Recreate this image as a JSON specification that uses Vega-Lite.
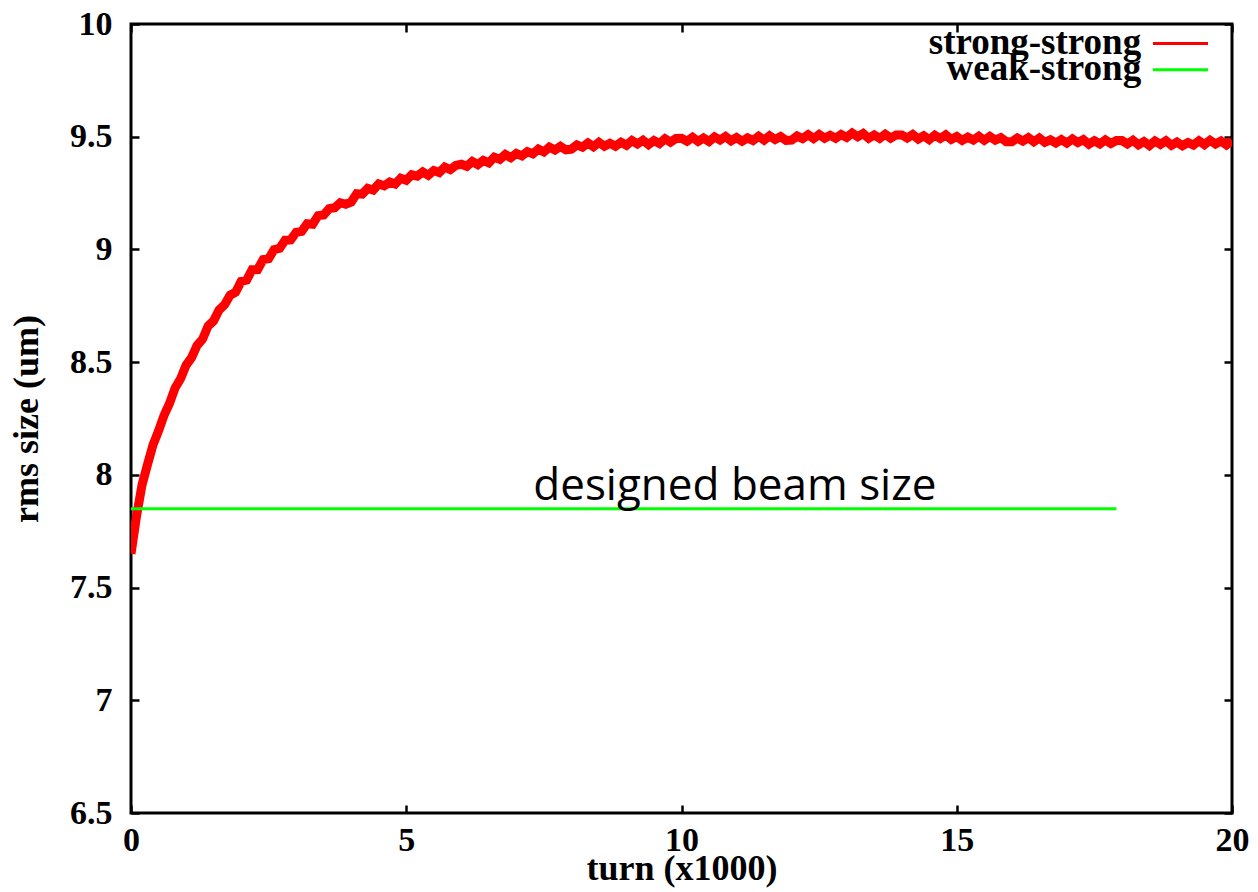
{
  "$schema": "https://vega.github.io/schema/vega-lite/v6.json",
  "autosize": {"type": "none"},
  "width": 1101,
  "height": 789,
  "padding": {"left": 131, "top": 24, "right": 26, "bottom": 79},
  "background": "white",
  "config": {
    "view": {"stroke": "black", "strokeWidth": 3},
    "axis": {"grid": false, "domain": false, "tickColor": "black", "tickWidth": 2.5, "tickSize": -8,
      "labelFont": "Liberation Serif", "labelFontWeight": "bold", "labelFontSize": 34, "labelColor": "black",
      "titleFont": "Liberation Serif", "titleFontWeight": "bold", "titleFontSize": 36, "titleColor": "black",
      "labelFlush": false, "labelOverlap": false}
  },
  "datasets": {
    "weak": [
      {"turn": 0, "rms": 7.85, "series": "weak-strong"},
      {"turn": 17.9, "rms": 7.85, "series": "weak-strong"}
    ],
    "strong": [
      {"turn":0.0,"rms":7.65},{"turn":0.1,"rms":7.816},{"turn":0.2,"rms":7.955},{"turn":0.3,"rms":8.046},{"turn":0.4,"rms":8.133},
      {"turn":0.5,"rms":8.195},{"turn":0.6,"rms":8.264},{"turn":0.7,"rms":8.317},{"turn":0.8,"rms":8.385},{"turn":0.9,"rms":8.426},
      {"turn":1.0,"rms":8.486},{"turn":1.1,"rms":8.52},{"turn":1.2,"rms":8.574},{"turn":1.3,"rms":8.602},{"turn":1.4,"rms":8.66},
      {"turn":1.5,"rms":8.683},{"turn":1.6,"rms":8.731},{"turn":1.7,"rms":8.755},{"turn":1.8,"rms":8.797},{"turn":1.9,"rms":8.81},
      {"turn":2.0,"rms":8.858},{"turn":2.1,"rms":8.864},{"turn":2.2,"rms":8.91},{"turn":2.3,"rms":8.911},{"turn":2.4,"rms":8.955},
      {"turn":2.5,"rms":8.959},{"turn":2.6,"rms":8.999},{"turn":2.7,"rms":9.005},{"turn":2.8,"rms":9.041},{"turn":2.9,"rms":9.042},
      {"turn":3.0,"rms":9.076},{"turn":3.1,"rms":9.08},{"turn":3.2,"rms":9.114},{"turn":3.3,"rms":9.112},{"turn":3.4,"rms":9.15},
      {"turn":3.5,"rms":9.153},{"turn":3.6,"rms":9.181},{"turn":3.7,"rms":9.185},{"turn":3.8,"rms":9.207},{"turn":3.9,"rms":9.2},
      {"turn":4.0,"rms":9.21},{"turn":4.1,"rms":9.247},{"turn":4.2,"rms":9.245},{"turn":4.3,"rms":9.271},{"turn":4.4,"rms":9.263},
      {"turn":4.5,"rms":9.29},{"turn":4.6,"rms":9.282},{"turn":4.7,"rms":9.299},{"turn":4.8,"rms":9.29},{"turn":4.9,"rms":9.316},
      {"turn":5.0,"rms":9.307},{"turn":5.1,"rms":9.331},{"turn":5.2,"rms":9.325},{"turn":5.3,"rms":9.344},{"turn":5.4,"rms":9.329},
      {"turn":5.5,"rms":9.35},{"turn":5.6,"rms":9.341},{"turn":5.7,"rms":9.365},{"turn":5.8,"rms":9.354},{"turn":5.9,"rms":9.373},
      {"turn":6.0,"rms":9.378},{"turn":6.1,"rms":9.369},{"turn":6.2,"rms":9.39},{"turn":6.3,"rms":9.376},{"turn":6.4,"rms":9.395},
      {"turn":6.5,"rms":9.384},{"turn":6.6,"rms":9.409},{"turn":6.7,"rms":9.4},{"turn":6.8,"rms":9.421},{"turn":6.9,"rms":9.407},
      {"turn":7.0,"rms":9.426},{"turn":7.1,"rms":9.415},{"turn":7.2,"rms":9.434},{"turn":7.3,"rms":9.424},{"turn":7.4,"rms":9.445},
      {"turn":7.5,"rms":9.433},{"turn":7.6,"rms":9.454},{"turn":7.7,"rms":9.441},{"turn":7.8,"rms":9.457},{"turn":7.9,"rms":9.442},
      {"turn":8.0,"rms":9.445},{"turn":8.1,"rms":9.464},{"turn":8.2,"rms":9.454},{"turn":8.3,"rms":9.472},{"turn":8.4,"rms":9.456},
      {"turn":8.5,"rms":9.475},{"turn":8.6,"rms":9.458},{"turn":8.7,"rms":9.471},{"turn":8.8,"rms":9.458},{"turn":8.9,"rms":9.475},
      {"turn":9.0,"rms":9.462},{"turn":9.1,"rms":9.483},{"turn":9.2,"rms":9.468},{"turn":9.3,"rms":9.484},{"turn":9.4,"rms":9.465},
      {"turn":9.5,"rms":9.483},{"turn":9.6,"rms":9.47},{"turn":9.7,"rms":9.491},{"turn":9.8,"rms":9.476},{"turn":9.9,"rms":9.492},
      {"turn":10.0,"rms":9.493},{"turn":10.1,"rms":9.48},{"turn":10.2,"rms":9.497},{"turn":10.3,"rms":9.479},{"turn":10.4,"rms":9.494},
      {"turn":10.5,"rms":9.479},{"turn":10.6,"rms":9.499},{"turn":10.7,"rms":9.485},{"turn":10.8,"rms":9.501},{"turn":10.9,"rms":9.482},
      {"turn":11.0,"rms":9.496},{"turn":11.1,"rms":9.48},{"turn":11.2,"rms":9.495},{"turn":11.3,"rms":9.483},{"turn":11.4,"rms":9.502},
      {"turn":11.5,"rms":9.485},{"turn":11.6,"rms":9.504},{"turn":11.7,"rms":9.488},{"turn":11.8,"rms":9.501},{"turn":11.9,"rms":9.484},
      {"turn":12.0,"rms":9.485},{"turn":12.1,"rms":9.503},{"turn":12.2,"rms":9.492},{"turn":12.3,"rms":9.509},{"turn":12.4,"rms":9.492},
      {"turn":12.5,"rms":9.51},{"turn":12.6,"rms":9.493},{"turn":12.7,"rms":9.506},{"turn":12.8,"rms":9.493},{"turn":12.9,"rms":9.51},
      {"turn":13.0,"rms":9.497},{"turn":13.1,"rms":9.516},{"turn":13.2,"rms":9.5},{"turn":13.3,"rms":9.514},{"turn":13.4,"rms":9.493},
      {"turn":13.5,"rms":9.508},{"turn":13.6,"rms":9.493},{"turn":13.7,"rms":9.511},{"turn":13.8,"rms":9.494},{"turn":13.9,"rms":9.508},
      {"turn":14.0,"rms":9.508},{"turn":14.1,"rms":9.494},{"turn":14.2,"rms":9.51},{"turn":14.3,"rms":9.49},{"turn":14.4,"rms":9.504},
      {"turn":14.5,"rms":9.487},{"turn":14.6,"rms":9.507},{"turn":14.7,"rms":9.492},{"turn":14.8,"rms":9.508},{"turn":14.9,"rms":9.488},
      {"turn":15.0,"rms":9.501},{"turn":15.1,"rms":9.484},{"turn":15.2,"rms":9.498},{"turn":15.3,"rms":9.485},{"turn":15.4,"rms":9.502},
      {"turn":15.5,"rms":9.484},{"turn":15.6,"rms":9.501},{"turn":15.7,"rms":9.485},{"turn":15.8,"rms":9.496},{"turn":15.9,"rms":9.478},
      {"turn":16.0,"rms":9.478},{"turn":16.1,"rms":9.494},{"turn":16.2,"rms":9.481},{"turn":16.3,"rms":9.496},{"turn":16.4,"rms":9.478},
      {"turn":16.5,"rms":9.494},{"turn":16.6,"rms":9.475},{"turn":16.7,"rms":9.486},{"turn":16.8,"rms":9.472},{"turn":16.9,"rms":9.487},
      {"turn":17.0,"rms":9.472},{"turn":17.1,"rms":9.49},{"turn":17.2,"rms":9.474},{"turn":17.3,"rms":9.487},{"turn":17.4,"rms":9.467},
      {"turn":17.5,"rms":9.482},{"turn":17.6,"rms":9.468},{"turn":17.7,"rms":9.486},{"turn":17.8,"rms":9.47},{"turn":17.9,"rms":9.483},
      {"turn":18.0,"rms":9.483},{"turn":18.1,"rms":9.468},{"turn":18.2,"rms":9.484},{"turn":18.3,"rms":9.464},{"turn":18.4,"rms":9.478},
      {"turn":18.5,"rms":9.461},{"turn":18.6,"rms":9.481},{"turn":18.7,"rms":9.466},{"turn":18.8,"rms":9.482},{"turn":18.9,"rms":9.462},
      {"turn":19.0,"rms":9.476},{"turn":19.1,"rms":9.46},{"turn":19.2,"rms":9.474},{"turn":19.3,"rms":9.463},{"turn":19.4,"rms":9.482},
      {"turn":19.5,"rms":9.465},{"turn":19.6,"rms":9.484},{"turn":19.7,"rms":9.468},{"turn":19.8,"rms":9.481},{"turn":19.9,"rms":9.464},
      {"turn":20.0,"rms":9.483}
    ],
    "note": [{"text": "designed beam size"}],
    "keyStrong": [{"series": "strong-strong"}],
    "keyWeak": [{"series": "weak-strong"}]
  },
  "resolve": {"axis": {"x": "independent", "y": "independent"}},
  "layer": [
    {
      "data": {"name": "strong"},
      "transform": [{"calculate": "'strong-strong'", "as": "series"}],
      "mark": {"type": "line", "strokeWidth": 9, "clip": true},
      "encoding": {
        "x": {"field": "turn", "type": "quantitative",
          "scale": {"domain": [0, 20], "nice": false, "zero": false},
          "axis": {"orient": "bottom", "values": [0, 5, 10, 15, 20], "title": "turn (x1000)", "labelPadding": 18, "titlePadding": -6}},
        "y": {"field": "rms", "type": "quantitative",
          "scale": {"domain": [6.5, 10], "nice": false, "zero": false},
          "axis": {"orient": "left", "values": [6.5, 7, 7.5, 8, 8.5, 9, 9.5, 10], "format": "~g", "title": "rms size (um)", "labelPadding": 27, "titlePadding": 24}},
        "color": {"field": "series", "type": "nominal",
          "scale": {"domain": ["strong-strong", "weak-strong"], "range": ["#ff0000", "#00ff00"]},
          "legend": null}
      }
    },
    {
      "data": {"name": "weak"},
      "mark": {"type": "line", "strokeWidth": 3},
      "encoding": {
        "x": {"field": "turn", "type": "quantitative",
          "axis": {"orient": "top", "values": [0, 5, 10, 15, 20], "labels": false, "title": null}},
        "y": {"field": "rms", "type": "quantitative",
          "axis": {"orient": "right", "values": [6.5, 7, 7.5, 8, 8.5, 9, 9.5, 10], "labels": false, "title": null}},
        "color": {"field": "series", "type": "nominal", "legend": null}
      }
    },
    {
      "data": {"name": "note"},
      "mark": {"type": "text", "font": "Open Sans", "fontSize": 44, "align": "center", "baseline": "alphabetic", "color": "black"},
      "encoding": {
        "text": {"field": "text", "type": "nominal"},
        "x": {"datum": 10.97, "type": "quantitative", "axis": null},
        "y": {"datum": 7.89, "type": "quantitative", "axis": null}
      }
    },
    {
      "data": {"name": "keyStrong"},
      "mark": {"type": "text", "font": "Liberation Serif", "fontWeight": "bold", "fontSize": 37, "align": "right", "baseline": "alphabetic", "color": "black"},
      "encoding": {
        "text": {"field": "series", "type": "nominal"},
        "x": {"datum": 18.35, "type": "quantitative", "axis": null},
        "y": {"datum": 9.867, "type": "quantitative", "axis": null}
      }
    },
    {
      "data": {"name": "keyWeak"},
      "mark": {"type": "text", "font": "Liberation Serif", "fontWeight": "bold", "fontSize": 37, "align": "right", "baseline": "alphabetic", "color": "black"},
      "encoding": {
        "text": {"field": "series", "type": "nominal"},
        "x": {"datum": 18.35, "type": "quantitative", "axis": null},
        "y": {"datum": 9.752, "type": "quantitative", "axis": null}
      }
    },
    {
      "data": {"name": "keyStrong"},
      "mark": {"type": "rule", "strokeWidth": 3},
      "encoding": {
        "x": {"datum": 18.565, "type": "quantitative", "axis": null},
        "x2": {"datum": 19.565},
        "y": {"datum": 9.913, "type": "quantitative", "axis": null},
        "color": {"field": "series", "type": "nominal", "legend": null}
      }
    },
    {
      "data": {"name": "keyWeak"},
      "mark": {"type": "rule", "strokeWidth": 3},
      "encoding": {
        "x": {"datum": 18.565, "type": "quantitative", "axis": null},
        "x2": {"datum": 19.565},
        "y": {"datum": 9.797, "type": "quantitative", "axis": null},
        "color": {"field": "series", "type": "nominal", "legend": null}
      }
    }
  ]
}
